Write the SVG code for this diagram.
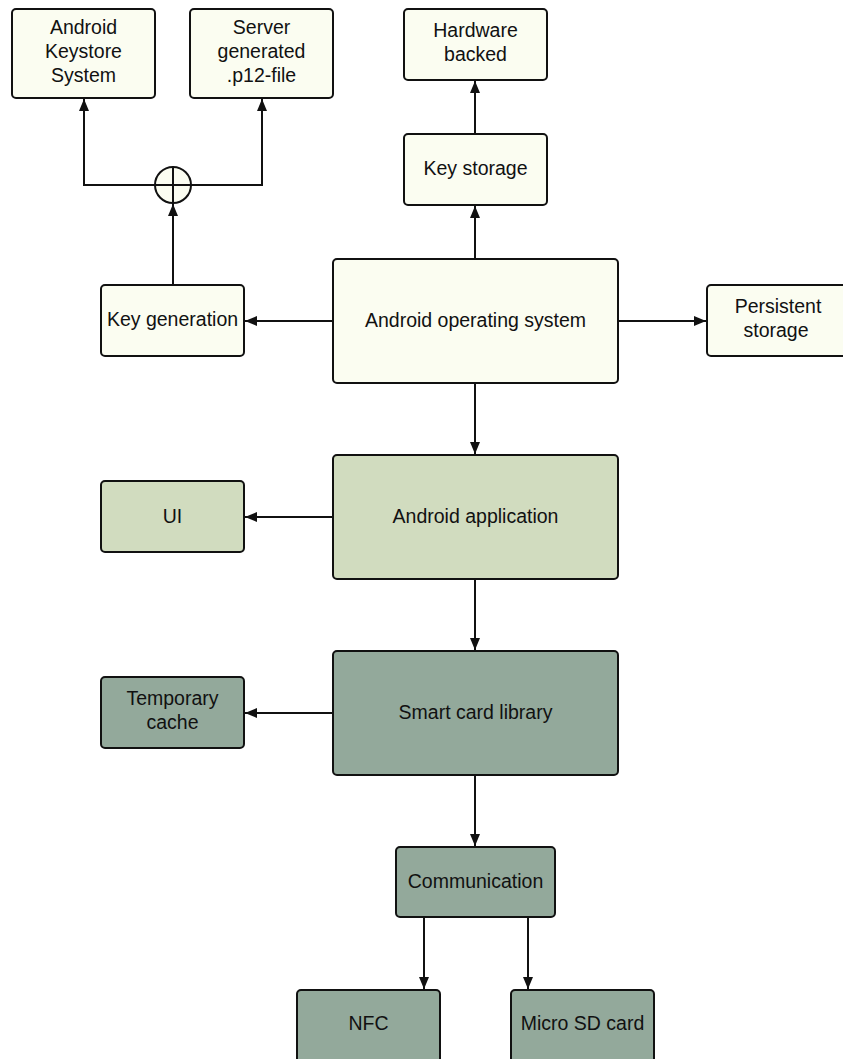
<svg xmlns="http://www.w3.org/2000/svg" width="843" height="1059" viewBox="0 0 843 1059">
<style>
.n rect{stroke:#111;stroke-width:2}
.l rect{fill:#fbfdf1}
.m rect{fill:#d1dcbf}
.d rect{fill:#93a99b}
text{font-family:"Liberation Sans",Arial,sans-serif;font-size:19.5px;fill:#111;text-anchor:middle}
.c path,.c line{stroke:#111;stroke-width:2;fill:none}
</style>
<defs>
<marker id="a" viewBox="0 0 12 10" refX="12" refY="5" markerWidth="12" markerHeight="10" markerUnits="userSpaceOnUse" orient="auto">
<path d="M0,0L12,5L0,10z" fill="#111"/>
</marker>
</defs>
<rect width="843" height="1059" fill="#fff"/>
<g class="c">
<path d="M155,185H84V99" marker-end="url(#a)"/>
<path d="M191,185H262V99" marker-end="url(#a)"/>
<path d="M173,285V204" marker-end="url(#a)"/>
<circle cx="173" cy="185" r="18" fill="#fbfdf1" stroke="#111" stroke-width="2"/>
<line x1="155" y1="185" x2="191" y2="185"/>
<line x1="173" y1="167" x2="173" y2="203"/>
<line x1="475" y1="134" x2="475" y2="81" marker-end="url(#a)"/>
<line x1="475" y1="259" x2="475" y2="206" marker-end="url(#a)"/>
<line x1="333" y1="321" x2="245" y2="321" marker-end="url(#a)"/>
<line x1="618" y1="321" x2="706" y2="321" marker-end="url(#a)"/>
<line x1="475" y1="383" x2="475" y2="454" marker-end="url(#a)"/>
<line x1="333" y1="517" x2="245" y2="517" marker-end="url(#a)"/>
<line x1="475" y1="579" x2="475" y2="650" marker-end="url(#a)"/>
<line x1="333" y1="713" x2="245" y2="713" marker-end="url(#a)"/>
<line x1="475" y1="775" x2="475" y2="846" marker-end="url(#a)"/>
<line x1="424" y1="917" x2="424" y2="989" marker-end="url(#a)"/>
<line x1="528" y1="917" x2="528" y2="989" marker-end="url(#a)"/>
</g>
<g id="keystore" class="n l"><rect x="12" y="9" width="143" height="89" rx="4"/><text x="83.5" y="34">Android</text><text x="83.5" y="58">Keystore</text><text x="83.5" y="82">System</text></g>
<g id="server" class="n l"><rect x="190" y="9" width="143" height="89" rx="4"/><text x="261.5" y="34">Server</text><text x="261.5" y="58">generated</text><text x="261.5" y="82">.p12-file</text></g>
<g id="hardware" class="n l"><rect x="404" y="9" width="143" height="71" rx="4"/><text x="475.5" y="37">Hardware</text><text x="475.5" y="61">backed</text></g>
<g id="keystorage" class="n l"><rect x="404" y="134" width="143" height="71" rx="4"/><text x="475.5" y="175">Key storage</text></g>
<g id="keygen" class="n l"><rect x="101" y="285" width="143" height="71" rx="4"/><text x="172.5" y="326">Key generation</text></g>
<g id="os" class="n l"><rect x="333" y="259" width="285" height="124" rx="4"/><text x="475.5" y="327">Android operating system</text></g>
<g id="persistent" class="n l"><rect x="707" y="285" width="143" height="71" rx="4"/><text x="778" y="313">Persistent</text><text x="776" y="337">storage</text></g>
<g id="ui" class="n m"><rect x="101" y="481" width="143" height="71" rx="4"/><text x="172.5" y="523">UI</text></g>
<g id="app" class="n m"><rect x="333" y="455" width="285" height="124" rx="4"/><text x="475.5" y="523">Android application</text></g>
<g id="cache" class="n d"><rect x="101" y="677" width="143" height="71" rx="4"/><text x="172.5" y="705">Temporary</text><text x="172.5" y="729">cache</text></g>
<g id="smartcard" class="n d"><rect x="333" y="651" width="285" height="124" rx="4"/><text x="475.5" y="719">Smart card library</text></g>
<g id="comm" class="n d"><rect x="396" y="847" width="159" height="70" rx="4"/><text x="475.5" y="888">Communication</text></g>
<g id="nfc" class="n d"><rect x="297" y="990" width="143" height="80" rx="4"/><text x="368.5" y="1030">NFC</text></g>
<g id="microsd" class="n d"><rect x="511" y="990" width="143" height="80" rx="4"/><text x="582.5" y="1030">Micro SD card</text></g>
</svg>
